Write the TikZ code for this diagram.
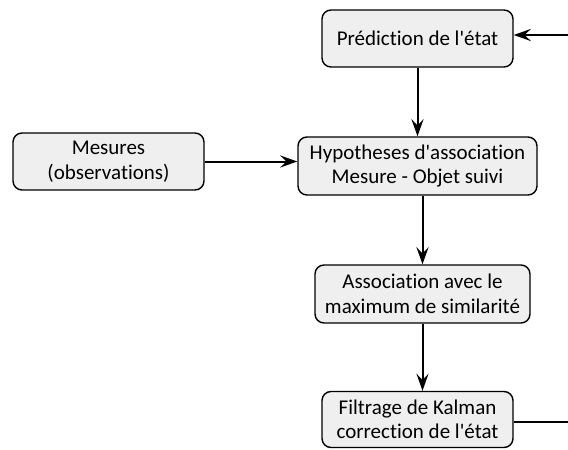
\documentclass[tikz,border=0pt]{standalone}
\usepackage{fontspec}
\setmainfont{Carlito}[Ligatures={TeXOff,NoCommon}]
\usetikzlibrary{arrows.meta,calc}
\definecolor{boxfill}{HTML}{EFEFEF}
\begin{document}
\begin{tikzpicture}[x=1pt,y=-1pt,
  stagebox/.style={draw=black,line width=1.4pt,fill=boxfill,rounded corners=9pt,
    align=center,inner sep=0pt,font=\fontsize{21}{24.5}\selectfont},
  flow/.style={line width=2pt,-{Stealth[length=17pt,width=12pt,inset=6pt]}},
  plain/.style={line width=2pt}]
  \useasboundingbox (0,0) rectangle (568,450);

  % processing stages
  \node[stagebox,minimum width=191pt,minimum height=57pt] (pred) at (417.5,38.5) {Prédiction de l'état};
  \node[stagebox,minimum width=191pt,minimum height=57pt] (mes) at (108.5,161.5) {Mesures\\(observations)};
  \node[stagebox,minimum width=239pt,minimum height=58pt] (hyp) at (417.5,166) {Hypotheses d'association\\Mesure - Objet suivi};
  \node[stagebox,minimum width=215pt,minimum height=58pt] (assoc) at (422.5,294) {Association avec le\\maximum de similarité};
  \node[stagebox,minimum width=191pt,minimum height=56pt] (kal) at (417.5,419.5) {Filtrage de Kalman\\correction de l'état};

  % loop ends at the right edge
  \coordinate (loopout) at (568,422);
  \coordinate (loopin) at (568,35);

  % connectors
  \draw[flow] (pred.south) -- (hyp.north);
  \draw[flow] (mes.east) -- (mes.east -| hyp.west);
  \draw[flow] (assoc.north |- hyp.south) -- (assoc.north);
  \draw[flow] (assoc.south) -- (assoc.south |- kal.north);
  \draw[plain] (loopout -| kal.east) -- (loopout);
  \draw[flow] (loopin) -- (loopin -| pred.east);
\end{tikzpicture}
\end{document}
